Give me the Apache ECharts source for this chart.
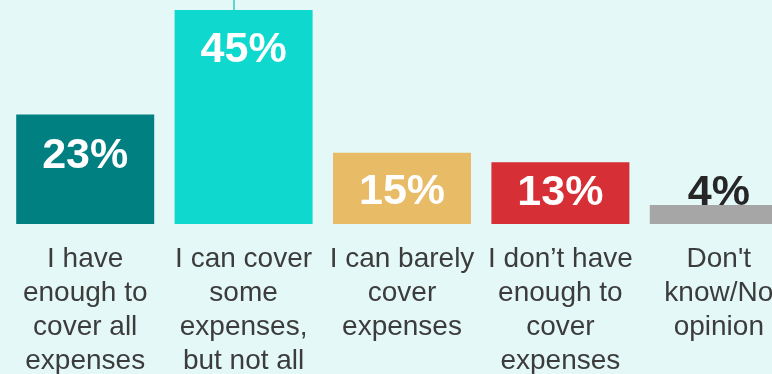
<!DOCTYPE html>
<html>
<head>
<meta charset="utf-8">
<style>
  html, body { margin: 0; padding: 0; background: #e3f8f7; }
  #chart { width: 772px; height: 374px; }
</style>
<script src="https://cdn.jsdelivr.net/npm/echarts@6/dist/echarts.min.js"></script>
</head>
<body>
<div id="chart"></div>
<script>
// Ability to cover expenses — share of respondents
const categories = [
  'I have\nenough to\ncover all\nexpenses',
  'I can cover\nsome\nexpenses,\nbut not all',
  'I can barely\ncover\nexpenses',
  'I don\u2019t have\nenough to\ncover\nexpenses',
  "Don't\nknow/No\nopinion"
];
const shares = [23, 45, 15, 13, 4];

const barColors = ['#008080', '#0fd8ce', '#e8bb66', '#d62f35', '#a6a6a6'];
// label placement per bar (short bars get the label pulled up / outside)
const labelPlace = [
  { position: 'insideTop', distance: 20, color: '#ffffff' },
  { position: 'insideTop', distance: 19, color: '#ffffff' },
  { position: 'insideTop', distance: 18, color: '#ffffff' },
  { position: 'insideTop', distance: 9, color: '#ffffff' },
  { position: 'top', distance: -10, color: '#262626' }
];

const chart = echarts.init(document.getElementById('chart'), null, { renderer: 'canvas' });

const barData = shares.map((v, i) => ({
  value: v,
  itemStyle: { color: barColors[i] },
  label: labelPlace[i]
}));

chart.setOption({
  backgroundColor: '#e3f8f7',
  animation: false,
  grid: {
    left: 6, right: -26, top: 10, bottom: 150,
    containLabel: false,
    outerBoundsMode: 'none'
  },
  xAxis: {
    type: 'category',
    data: categories,
    axisLine: { show: false },
    axisTick: { show: false },
    axisLabel: {
      interval: 0,
      margin: 18,
      color: '#3c3c3c',
      fontFamily: 'Liberation Sans, Arial, sans-serif',
      fontSize: 28,
      lineHeight: 34,
      align: 'center'
    }
  },
  yAxis: {
    type: 'value',
    min: 0,
    max: 45,
    show: false,
    splitLine: { show: false }
  },
  series: [{
    type: 'bar',
    data: barData,
    barWidth: 138,
    label: {
      show: true,
      formatter: '{c}%',
      fontFamily: 'Liberation Sans, Arial, sans-serif',
      fontWeight: 'bold',
      fontSize: 43
    }
  }],
  graphic: [{
    type: 'line',
    shape: { x1: 234, y1: 0, x2: 234, y2: 10 },
    style: { stroke: '#5ad8d0', lineWidth: 2 }
  }]
});
</script>
</body>
</html>
